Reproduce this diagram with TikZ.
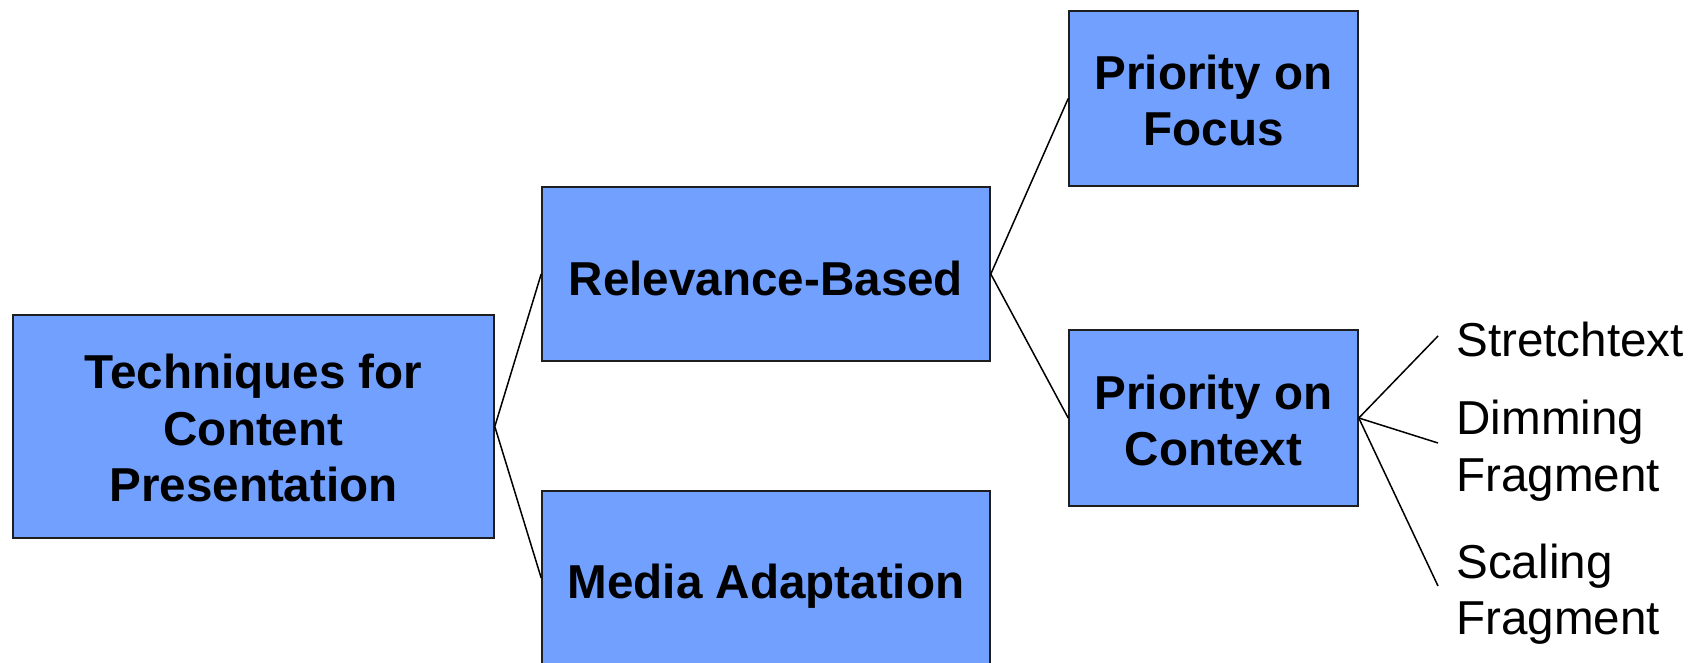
\documentclass[tikz,border=0pt]{standalone}
\usepackage{fontspec}
\setmainfont{Liberation Sans}
\definecolor{boxblue}{RGB}{114,160,255}
\definecolor{boxedge}{RGB}{30,30,30}
\begin{document}
\begin{tikzpicture}[x=0.5pt,y=-0.5pt,
  box/.style={draw=boxedge,line width=0.8pt,fill=boxblue,rectangle,inner sep=0pt},
  boxtext/.style={inner sep=0pt,align=center,font=\fontsize{23.8}{28.2}\selectfont\bfseries},
  leaf/.style={inner sep=0pt,align=left,anchor=west,font=\fontsize{23.8}{28.2}\selectfont},
  conn/.style={line width=0.75pt,black}]
\useasboundingbox (0,0) rectangle (1702,663);
\node[box,minimum width=240.5pt,minimum height=111.5pt,
  label={[boxtext,yshift=-0.8pt]center:{Techniques for\\Content\\Presentation}}] (tech) at (253.5,426.5) {};
\node[box,minimum width=224pt,minimum height=87pt,
  label={[boxtext,yshift=-2pt]center:Relevance-Based}] (rel) at (766,274) {};
\node[box,minimum width=224pt,minimum height=87pt,
  label={[boxtext,yshift=-4.2pt]center:Media Adaptation}] (media) at (766,578) {};
\node[box,minimum width=144.5pt,minimum height=87.5pt,
  label={[boxtext,yshift=-1pt]center:{Priority on\\Focus}}] (focus) at (1213.5,98.5) {};
\node[box,minimum width=144.5pt,minimum height=88pt,
  label={[boxtext,yshift=-1.3pt]center:{Priority on\\Context}}] (ctx) at (1213.5,418) {};
\coordinate (c1) at (1438,336);
\coordinate (c2) at (1438,443);
\coordinate (c3) at (1438,586);
\node[leaf] (l1) at (1456,339) {Stretchtext};
\node[leaf] (l2) at (1456,450.5) {Dimming\\Fragment};
\node[leaf] (l3) at (1456,594) {Scaling\\Fragment};
\draw[conn] (tech.east) -- (rel.west);
\draw[conn] (tech.east) -- (media.west);
\draw[conn] (rel.east) -- (focus.west);
\draw[conn] (rel.east) -- (ctx.west);
\draw[conn] (ctx.east) -- (c1);
\draw[conn] (ctx.east) -- (c2);
\draw[conn] (ctx.east) -- (c3);
\end{tikzpicture}
\end{document}
